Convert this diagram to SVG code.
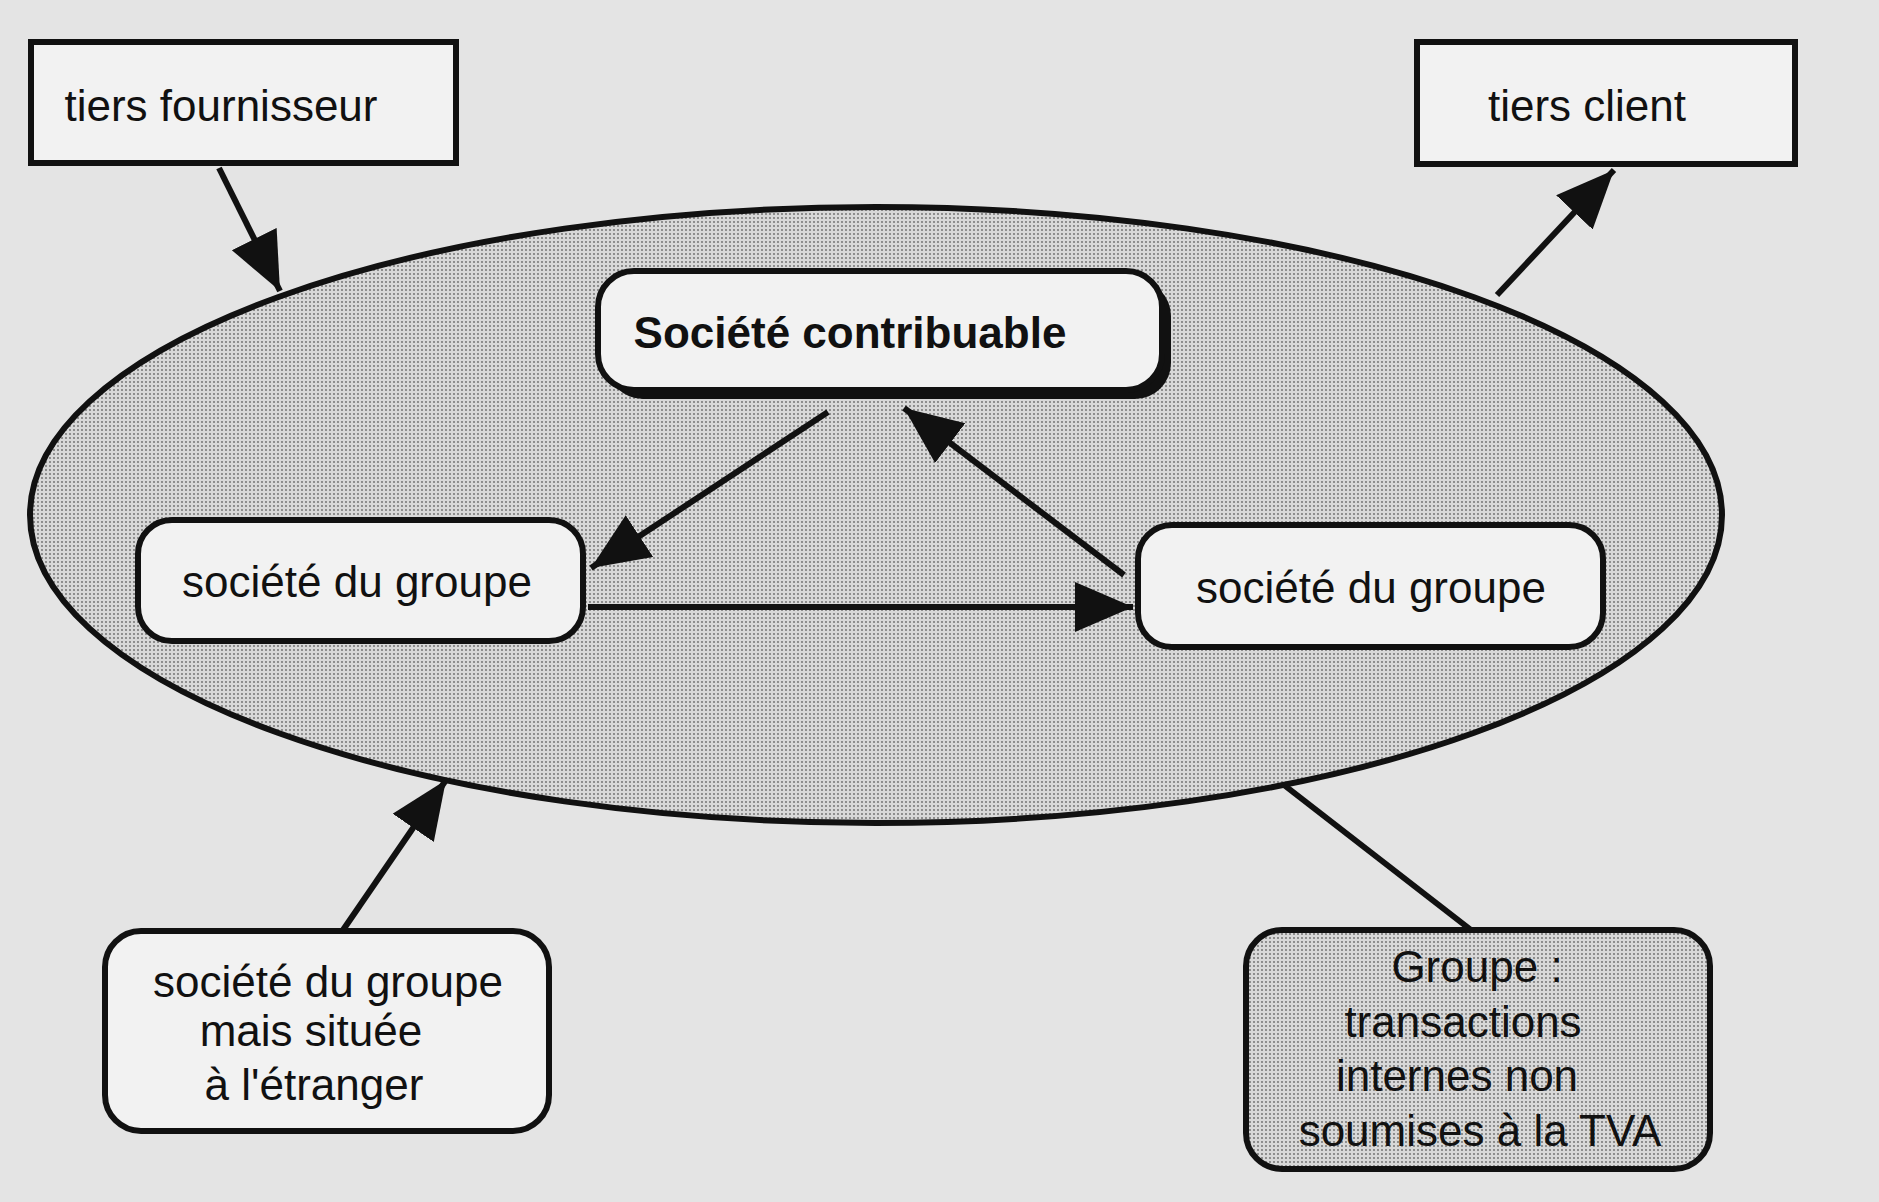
<svg xmlns="http://www.w3.org/2000/svg" width="1879" height="1202" viewBox="0 0 1879 1202">
<style>
.txt{font-family:"Liberation Sans",Arial,sans-serif;font-size:44px;fill:#111;text-anchor:middle}
.bold{font-weight:bold}
.box{fill:#f2f2f2;stroke:#111;stroke-width:6}
.conn{stroke:#111;stroke-width:6;fill:none}
</style>
<defs>
<pattern id="dots" width="4" height="4" patternUnits="userSpaceOnUse">
<rect width="4" height="4" fill="#d8d8d8"/>
<circle cx="2" cy="2" r="0.9" fill="#6a6a6a"/>
</pattern>
<marker id="arrow" markerUnits="userSpaceOnUse" markerWidth="62" markerHeight="52" refX="58" refY="25" orient="auto">
<path d="M0,0 L58,25 L0,50 z" fill="#111"/>
</marker>
</defs>
<rect width="1879" height="1202" fill="#e4e4e4"/>
<g id="groupe-ellipse">
<ellipse cx="876" cy="515" rx="846" ry="308" fill="url(#dots)" stroke="#111" stroke-width="6"/>
</g>
<g id="connectors">
<line class="conn" x1="219" y1="168" x2="280" y2="291" marker-end="url(#arrow)"/>
<line class="conn" x1="1497" y1="295" x2="1614" y2="170" marker-end="url(#arrow)"/>
<line class="conn" x1="828" y1="412" x2="591" y2="568" marker-end="url(#arrow)"/>
<line class="conn" x1="1124" y1="575" x2="904" y2="408" marker-end="url(#arrow)"/>
<line class="conn" x1="588" y1="607" x2="1133" y2="607" marker-end="url(#arrow)"/>
<line class="conn" x1="343" y1="930" x2="446" y2="780" marker-end="url(#arrow)"/>
<line class="conn" x1="1471" y1="930" x2="1284" y2="785"/>
</g>
<g id="tiers-fournisseur">
<rect class="box" x="31" y="42" width="425" height="121"/>
<text class="txt" x="221" y="121">tiers fournisseur</text>
</g>
<g id="tiers-client">
<rect class="box" x="1417" y="42" width="378" height="122"/>
<text class="txt" x="1587" y="121">tiers client</text>
</g>
<g id="societe-contribuable">
<rect x="607" y="280" width="564" height="119" rx="36" fill="#111"/>
<rect class="box" x="598" y="271" width="564" height="119" rx="36"/>
<text class="txt bold" x="850" y="348">Société contribuable</text>
</g>
<g id="societe-groupe-gauche">
<rect class="box" x="138" y="520" width="445" height="121" rx="34"/>
<text class="txt" x="357" y="597">société du groupe</text>
</g>
<g id="societe-groupe-droite">
<rect class="box" x="1138" y="525" width="465" height="122" rx="34"/>
<text class="txt" x="1371" y="603">société du groupe</text>
</g>
<g id="societe-etranger">
<rect class="box" x="105" y="931" width="444" height="200" rx="36"/>
<text class="txt" x="328" y="997">société du groupe</text>
<text class="txt" x="311" y="1046">mais située</text>
<text class="txt" x="314" y="1100">à l'étranger</text>
</g>
<g id="groupe-tva">
<rect x="1246" y="930" width="464" height="239" rx="36" fill="url(#dots)" stroke="#111" stroke-width="6"/>
<text class="txt" x="1477" y="982">Groupe :</text>
<text class="txt" x="1463" y="1037">transactions</text>
<text class="txt" x="1457" y="1091">internes non</text>
<text class="txt" x="1480" y="1146">soumises à la TVA</text>
</g>
</svg>
